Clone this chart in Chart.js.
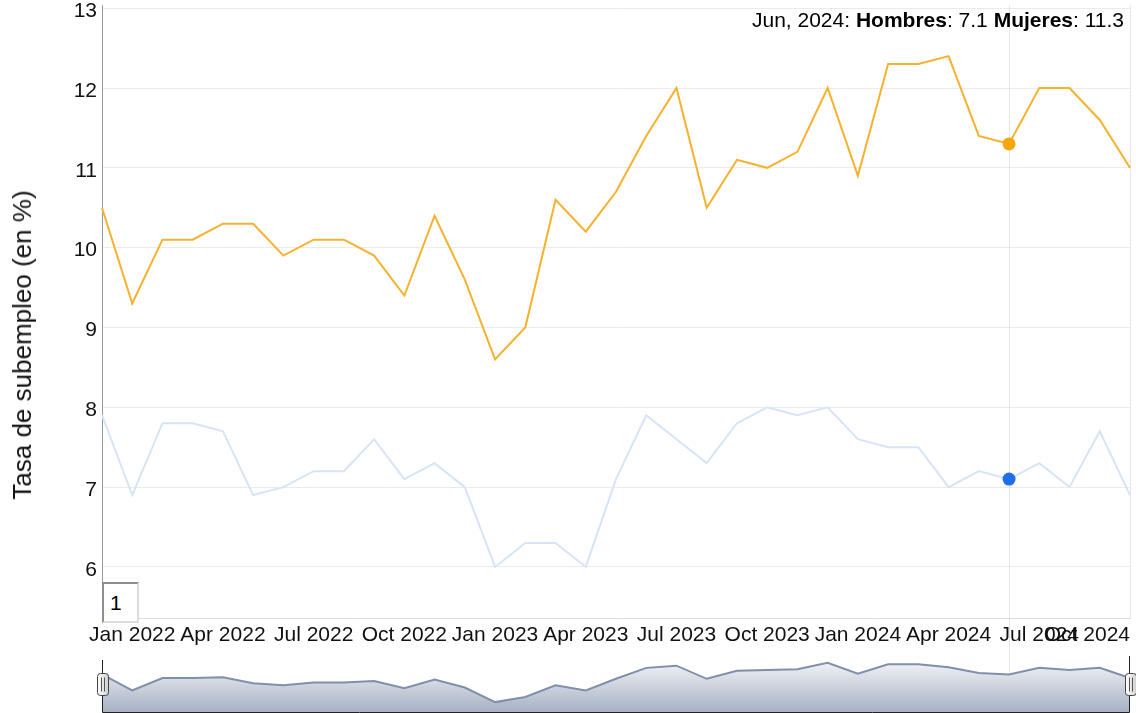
<!DOCTYPE html>
<html>
<head>
<meta charset="utf-8">
<script src="https://cdn.jsdelivr.net/npm/chart.js@4.4.1/dist/chart.umd.min.js"></script>
<style>
  html, body { margin: 0; padding: 0; background: #fff; }
  #wrap { position: relative; width: 1136px; height: 713px; overflow: hidden;
          font-family: "Liberation Sans", Arial, sans-serif; }
  #main { position: absolute; left: 0; top: 0; }
  #range { position: absolute; left: 0; top: 650px; }
  #legend { position: absolute; right: 12px; top: 8px; font-size: 21px; line-height: 24px;
            color: #000; white-space: nowrap; }
  #ytitle { position: absolute; left: 22px; top: 345px; transform: translate(-50%, -50%) rotate(-90deg);
            font-size: 26px; line-height: 30px; color: #111; white-space: nowrap; }
  #roll { position: absolute; left: 102px; top: 582px; width: 27px; height: 37px;
          padding: 0 0 0 6px; margin: 0; font-family: "Liberation Sans", Arial, sans-serif;
          font-size: 21px; color: #000; background: #fff; border-width: 2px; border-style: solid;
          border-color: #8e8e8e #dcdcdc #dcdcdc #8e8e8e; border-radius: 0; outline: none; box-sizing: content-box; }
</style>
</head>
<body>
<div id="wrap">
  <canvas id="main" width="1136" height="650"></canvas>
  <canvas id="range" width="1136" height="63"></canvas>
  <div id="legend"></div>
  <div id="ytitle"></div>
  <input id="roll" type="text" value="1">
</div>
<script>
// ---- data ----
const months = [
  'Dec 2021',
  'Jan 2022','Feb 2022','Mar 2022','Apr 2022','May 2022','Jun 2022',
  'Jul 2022','Aug 2022','Sep 2022','Oct 2022','Nov 2022','Dec 2022',
  'Jan 2023','Feb 2023','Mar 2023','Apr 2023','May 2023','Jun 2023',
  'Jul 2023','Aug 2023','Sep 2023','Oct 2023','Nov 2023','Dec 2023',
  'Jan 2024','Feb 2024','Mar 2024','Apr 2024','May 2024','Jun 2024',
  'Jul 2024','Aug 2024','Sep 2024','Oct 2024'
];
const hombres = [7.9, 6.9, 7.8, 7.8, 7.7, 6.9, 7.0, 7.2, 7.2, 7.6, 7.1, 7.3, 7.0,
                 6.0, 6.3, 6.3, 6.0, 7.1, 7.9, 7.6, 7.3, 7.8, 8.0, 7.9, 8.0,
                 7.6, 7.5, 7.5, 7.0, 7.2, 7.1, 7.3, 7.0, 7.7, 6.9];
const mujeres = [10.5, 9.3, 10.1, 10.1, 10.3, 10.3, 9.9, 10.1, 10.1, 9.9, 9.4, 10.4, 9.6,
                 8.6, 9.0, 10.6, 10.2, 10.7, 11.4, 12.0, 10.5, 11.1, 11.0, 11.2, 12.0,
                 10.9, 12.3, 12.3, 12.4, 11.4, 11.3, 12.0, 12.0, 11.6, 11.0];
// overview (range selector) curve
const rangeValues = [9.2, 8.1, 8.95, 8.95, 9.0, 8.6, 8.45, 8.65, 8.65, 8.75, 8.25, 8.85, 8.3,
                     7.3, 7.65, 8.45, 8.1, 8.9, 9.65, 9.8, 8.9, 9.45, 9.5, 9.55, 10.0,
                     9.25, 9.9, 9.9, 9.7, 9.3, 9.2, 9.65, 9.5, 9.65, 8.95];
const xTickLabels = ['Jan 2022','Apr 2022','Jul 2022','Oct 2022','Jan 2023','Apr 2023',
                     'Jul 2023','Oct 2023','Jan 2024','Apr 2024','Jul 2024','Oct 2024'];
const yTicks = [6, 7, 8, 9, 10, 11, 12, 13];
const seriesNames = ['Hombres', 'Mujeres'];
const hoverMonth = 'Jun 2024';
const yTitle = 'Tasa de subempleo (en %)';

// ---- helpers ----
const FONT = '"Liberation Sans", Arial, sans-serif';
const hoverIndex = months.indexOf(hoverMonth);
const lastIndex = months.length - 1;

document.getElementById('ytitle').textContent = yTitle;

// legend (dygraphs-style hover readout)
(function () {
  const parts = hoverMonth.split(' ');
  document.getElementById('legend').innerHTML =
    parts[0] + ', ' + parts[1] + ': <b>' + seriesNames[0] + '</b>: ' + hombres[hoverIndex].toFixed(1) +
    ' <b>' + seriesNames[1] + '</b>: ' + mujeres[hoverIndex].toFixed(1);
})();

const crosshair = {
  id: 'crosshair',
  beforeDatasetsDraw(chart) {
    const ctx = chart.ctx;
    const x = Math.round(chart.scales.x.getPixelForValue(hoverIndex)) + 0.5;
    ctx.save();
    ctx.strokeStyle = 'rgba(0,0,0,0.09)';
    ctx.lineWidth = 1;
    ctx.beginPath();
    ctx.moveTo(x, chart.chartArea.top);
    ctx.lineTo(x, chart.height);
    ctx.stroke();
    ctx.restore();
  }
};

new Chart(document.getElementById('main'), {
  type: 'line',
  data: {
    labels: months,
    datasets: [
      {
        label: seriesNames[0],
        data: hombres,
        borderColor: '#D6E4F8',
        borderWidth: 2,
        tension: 0,
        pointRadius: c => (c.dataIndex === hoverIndex ? 6.5 : 0),
        pointBackgroundColor: '#1F6FEA',
        pointBorderColor: '#1F6FEA',
        pointBorderWidth: 0
      },
      {
        label: seriesNames[1],
        data: mujeres,
        borderColor: '#F7B12C',
        borderWidth: 2,
        tension: 0,
        pointRadius: c => (c.dataIndex === hoverIndex ? 6.5 : 0),
        pointBackgroundColor: '#F7A60E',
        pointBorderColor: '#F7A60E',
        pointBorderWidth: 0
      }
    ]
  },
  options: {
    responsive: false,
    animation: false,
    events: [],
    layout: { padding: { left: 0, right: 6, top: 5, bottom: 0 } },
    plugins: { legend: { display: false }, tooltip: { enabled: false } },
    scales: {
      x: {
        type: 'category',
        offset: false,
        grid: {
          drawTicks: false,
          color: c => (c.index === lastIndex ? '#e6e6e6' : 'rgba(0,0,0,0)')
        },
        border: { color: '#dedede', width: 1 },
        ticks: {
          autoSkip: false,
          maxRotation: 0,
          minRotation: 0,
          align: 'inner',
          padding: 5,
          color: '#111',
          font: { family: FONT, size: 21 },
          callback: function (value) {
            const l = this.getLabelForValue(value);
            return xTickLabels.includes(l) ? l : '';
          }
        },
        afterFit: s => { s.height = 32; s.paddingLeft = 0; s.paddingRight = 0; }
      },
      y: {
        min: 5.36,
        max: 13.04,
        afterBuildTicks: s => { s.ticks = yTicks.map(v => ({ value: v })); },
        grid: { drawTicks: false, color: '#ebebeb' },
        border: { color: '#9a9a9a', width: 1 },
        ticks: {
          padding: 5,
          labelOffset: 3,
          color: '#111',
          font: { family: FONT, size: 21 }
        },
        title: { display: false },
        afterFit: s => { s.width = 102; s.paddingTop = 0; s.paddingBottom = 0; }
      }
    }
  },
  plugins: [crosshair]
});

// ---- range selector ----
const rangeDecor = {
  id: 'rangeDecor',
  beforeDatasetsDraw(chart) {
    const ctx = chart.ctx;
    const x = Math.round(chart.scales.x.getPixelForValue(hoverIndex)) + 0.5;
    ctx.save();
    ctx.strokeStyle = 'rgba(0,0,0,0.09)';
    ctx.lineWidth = 1;
    ctx.beginPath();
    ctx.moveTo(x, 0);
    ctx.lineTo(x, chart.height);
    ctx.stroke();
    ctx.restore();
  },
  afterDatasetsDraw(chart) {
    const ctx = chart.ctx;
    const a = chart.chartArea;
    const l = Math.round(a.left) + 0.5, r = Math.round(a.right) - 0.5;
    const b = chart.height - 0.5;
    ctx.save();
    ctx.strokeStyle = '#222';
    ctx.lineWidth = 1;
    ctx.beginPath();
    ctx.moveTo(l, a.top + 8);
    ctx.lineTo(l, b);
    ctx.lineTo(r, b);
    ctx.lineTo(r, a.top + 4);
    ctx.stroke();
    // handles
    const hw = 11, hh = 22;
    const cy = a.top + (a.bottom - a.top) * 0.53;
    [a.left, a.right].forEach(cx => {
      const x0 = Math.round(cx - hw / 2) + 0.5, y0 = Math.round(cy - hh / 2) + 0.5;
      const g = ctx.createLinearGradient(x0, 0, x0 + hw, 0);
      g.addColorStop(0, '#ffffff');
      g.addColorStop(1, '#cfcfcf');
      ctx.fillStyle = g;
      ctx.strokeStyle = '#444';
      ctx.beginPath();
      ctx.roundRect(x0, y0, hw, hh, 3);
      ctx.fill();
      ctx.stroke();
      ctx.strokeStyle = '#555';
      ctx.beginPath();
      ctx.moveTo(x0 + 4, y0 + 4); ctx.lineTo(x0 + 4, y0 + hh - 4);
      ctx.moveTo(x0 + 7, y0 + 4); ctx.lineTo(x0 + 7, y0 + hh - 4);
      ctx.stroke();
    });
    ctx.restore();
  }
};

new Chart(document.getElementById('range'), {
  type: 'line',
  data: {
    labels: months,
    datasets: [{
      data: rangeValues,
      borderColor: '#808FAB',
      borderWidth: 2,
      pointRadius: 0,
      tension: 0,
      fill: 'start',
      backgroundColor: c => {
        const a = c.chart.chartArea;
        if (!a) return '#d0d5e0';
        const g = c.chart.ctx.createLinearGradient(0, a.top, 0, a.bottom);
        g.addColorStop(0, '#ffffff');
        g.addColorStop(1, '#A7B1C4');
        return g;
      }
    }]
  },
  options: {
    responsive: false,
    animation: false,
    events: [],
    layout: { padding: { left: 102, right: 6, top: 2, bottom: 1 } },
    plugins: { legend: { display: false }, tooltip: { enabled: false } },
    scales: {
      x: { display: false, offset: false },
      y: { display: false, min: 6.62, max: 10.74 }
    }
  },
  plugins: [rangeDecor]
});
</script>
</body>
</html>
